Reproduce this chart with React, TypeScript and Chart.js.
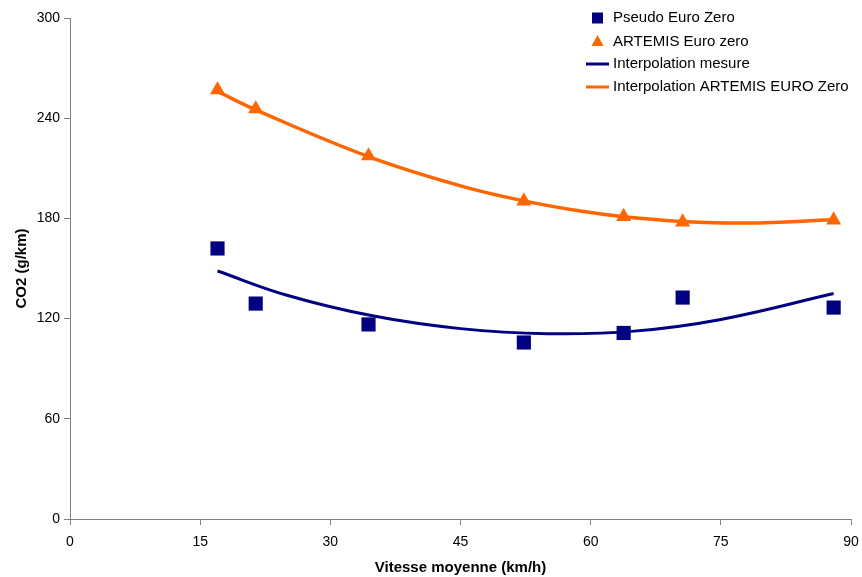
import React, { useEffect, useRef } from 'react';
import { Chart, registerables } from 'chart.js';

Chart.register(...registerables);

// Measured points
const speedPseudo = [17.0, 21.4, 34.4, 52.3, 63.8, 70.6, 88.0];
const co2Pseudo = [162, 129, 116.5, 105.7, 111.4, 132.6, 126.6];
const speedArtemis = [17.0, 21.4, 34.4, 52.3, 63.8, 70.6, 88.0];
const co2Artemis = [256.9, 245.5, 217.4, 190.4, 181.1, 177.8, 179.0];

// Trend curves
const curveMesureX = [17, 25, 35, 45, 55, 65, 75, 88];
const curveMesureY = [148.5, 134, 121.5, 114, 111, 112.5, 119.5, 135];
const curveArtemisX = [17, 21.4, 34.4, 45, 52.3, 58.8, 63.8, 70.6, 78, 88];
const curveArtemisY = [256, 245, 217, 199.5, 190.5, 184.4, 181, 178.2, 177.2, 179.2];

const seriesNames = [
  'Pseudo Euro Zero',
  'ARTEMIS Euro zero',
  'Interpolation mesure',
  'Interpolation ARTEMIS EURO Zero',
];

const xTicks = [0, 15, 30, 45, 60, 75, 90];
const yTicks = [0, 60, 120, 180, 240, 300];

const NAVY = '#000080';
const ORANGE = '#FF6600';
const AXIS = '#808080';
const FONT = '"Liberation Sans", Arial, sans-serif';

const toPts = (xs: number[], ys: number[]) => xs.map((x, i) => ({ x, y: ys[i] }));

const legendPlugin = {
  id: 'customLegend',
  afterDraw(chart: any) {
    const ctx = chart.ctx as CanvasRenderingContext2D;
    ctx.save();
    ctx.font = `15px ${FONT}`;
    ctx.textBaseline = 'middle';
    ctx.textAlign = 'left';
    const rows = [18, 41.5, 64, 87];
    const mx = 597.5;
    const tx = 613;
    seriesNames.forEach((name, i) => {
      const y = rows[i];
      if (i === 0) {
        ctx.fillStyle = NAVY;
        ctx.fillRect(mx - 5.5, y - 5.5, 11, 11);
      } else if (i === 1) {
        ctx.fillStyle = ORANGE;
        ctx.beginPath();
        ctx.moveTo(mx, y - 6.5);
        ctx.lineTo(mx + 6, y + 4.5);
        ctx.lineTo(mx - 6, y + 4.5);
        ctx.closePath();
        ctx.fill();
      } else {
        ctx.strokeStyle = i === 2 ? NAVY : ORANGE;
        ctx.lineWidth = 3;
        ctx.beginPath();
        ctx.moveTo(586, y);
        ctx.lineTo(609, y);
        ctx.stroke();
      }
      ctx.fillStyle = '#000';
      ctx.fillText(name, tx, y);
    });
    ctx.restore();
  },
};

export default function App() {
  const canvasRef = useRef<HTMLCanvasElement | null>(null);

  useEffect(() => {
    if (!canvasRef.current) return;
    const chart = new Chart(canvasRef.current, {
      type: 'scatter',
      data: {
        datasets: [
          {
            label: seriesNames[2],
            data: toPts(curveMesureX, curveMesureY),
            showLine: true,
            borderColor: NAVY,
            borderWidth: 3,
            pointRadius: 0,
            tension: 0.4,
            fill: false,
          },
          {
            label: seriesNames[3],
            data: toPts(curveArtemisX, curveArtemisY),
            showLine: true,
            borderColor: ORANGE,
            borderWidth: 3.5,
            pointRadius: 0,
            tension: 0.4,
            fill: false,
          },
          {
            label: seriesNames[0],
            data: toPts(speedPseudo, co2Pseudo),
            pointStyle: 'rect',
            pointRadius: 10,
            backgroundColor: NAVY,
            borderColor: NAVY,
            borderWidth: 0,
          },
          {
            label: seriesNames[1],
            data: toPts(speedArtemis, co2Artemis),
            pointStyle: 'triangle',
            pointRadius: 8.7,
            backgroundColor: ORANGE,
            borderColor: ORANGE,
            borderWidth: 0,
          },
        ],
      },
      options: {
        animation: false,
        responsive: false,
        maintainAspectRatio: false,
        layout: { padding: { left: 0, right: 11, top: 18, bottom: 0 } },
        plugins: {
          legend: { display: false },
          tooltip: { enabled: false },
        },
        scales: {
          x: {
            type: 'linear',
            min: 0,
            max: 90,
            afterFit: (s: any) => { s.height = 58; s.paddingRight = 0; s.paddingLeft = 0; },
            afterBuildTicks: (s: any) => { s.ticks = xTicks.map((v) => ({ value: v })); },
            ticks: {
              color: '#000',
              font: { family: FONT, size: 14 },
              padding: 9,
              maxRotation: 0,
            },
            grid: { drawOnChartArea: false, drawTicks: true, tickLength: 6, color: AXIS },
            border: { display: true, color: AXIS, width: 1 },
            title: {
              display: true,
              text: 'Vitesse moyenne (km/h)',
              color: '#000',
              font: { family: FONT, size: 15, weight: 'bold' },
              padding: { top: 3, bottom: 0 },
            },
          },
          y: {
            type: 'linear',
            min: 0,
            max: 300,
            afterFit: (s: any) => { s.width = 70; s.paddingTop = 0; s.paddingBottom = 0; },
            afterBuildTicks: (s: any) => { s.ticks = yTicks.map((v) => ({ value: v })); },
            ticks: {
              color: '#000',
              font: { family: FONT, size: 14 },
              padding: 4,
            },
            grid: { drawOnChartArea: false, drawTicks: true, tickLength: 6, color: AXIS },
            border: { display: true, color: AXIS, width: 1 },
            title: {
              display: true,
              text: 'CO2 (g/km)',
              color: '#000',
              font: { family: FONT, size: 15, weight: 'bold' },
              padding: { top: 13, bottom: 0 },
            },
          },
        },
      },
      plugins: [legendPlugin],
    });
    return () => chart.destroy();
  }, []);

  return (
    <div style={{ position: 'fixed', left: 0, top: 0, width: 862, height: 577, background: '#fff' }}>
      <canvas ref={canvasRef} width={862} height={577} style={{ width: 862, height: 577, display: 'block' }} />
    </div>
  );
}
